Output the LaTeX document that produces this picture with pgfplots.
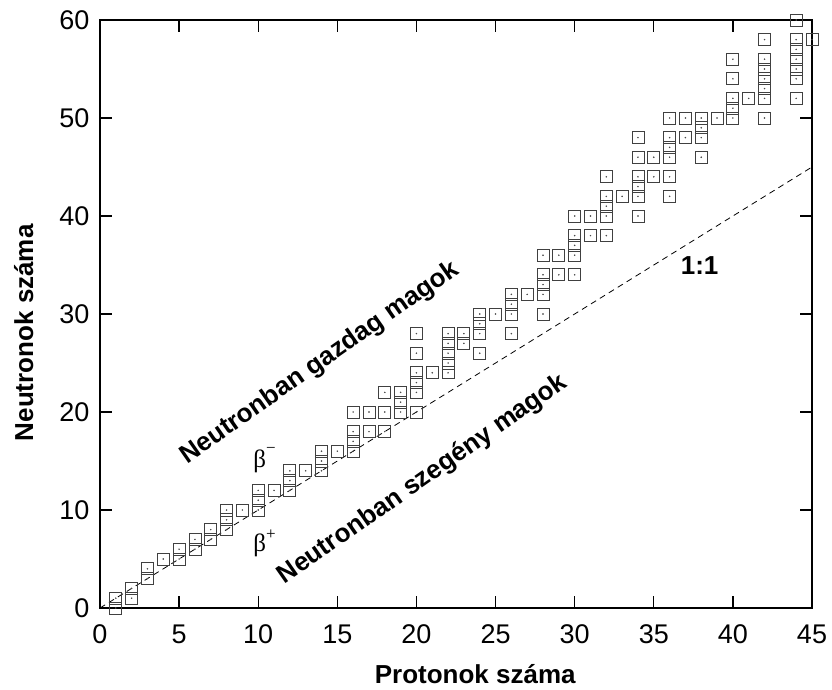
\documentclass[border=0pt]{standalone}
\usepackage{fontspec}
\setmainfont{Liberation Sans}
\newfontfamily\serifgreek{Liberation Serif}
\usepackage{pgfplots}
\usepackage{pgfplotstable}
\pgfplotsset{compat=1.18}

\pgfplotstableread{
z n
1 0
1 1
2 1
2 2
3 3
3 4
4 5
5 5
5 6
6 6
6 7
7 7
7 8
8 8
8 9
8 10
9 10
10 10
10 11
10 12
11 12
12 12
12 13
12 14
13 14
14 14
14 15
14 16
15 16
16 16
16 17
16 18
16 20
17 18
17 20
18 18
18 20
18 22
19 20
19 21
19 22
20 20
20 22
20 23
20 24
20 26
20 28
21 24
22 24
22 25
22 26
22 27
22 28
23 27
23 28
24 26
24 28
24 29
24 30
25 30
26 28
26 30
26 31
26 32
27 32
28 30
28 32
28 33
28 34
28 36
29 34
29 36
30 34
30 36
30 37
30 38
30 40
31 38
31 40
32 38
32 40
32 41
32 42
32 44
33 42
34 40
34 42
34 43
34 44
34 46
34 48
35 44
35 46
36 42
36 44
36 46
36 47
36 48
36 50
37 48
37 50
38 46
38 48
38 49
38 50
39 50
40 50
40 51
40 52
40 54
40 56
41 52
42 50
42 52
42 53
42 54
42 55
42 56
42 58
44 52
44 54
44 55
44 56
44 57
44 58
44 60
45 58
}\nuclides

\begin{document}
\begin{tikzpicture}
\begin{axis}[
  scale only axis,
  width=712pt, height=588pt,
  xmin=0, xmax=45, ymin=0, ymax=60,
  xtick={0,5,...,45}, ytick={0,10,...,60},
  tick align=inside,
  major tick length=12pt,
  axis line style={line width=1.3pt},
  every tick/.style={black, line width=1.3pt},
  tick label style={font=\fontsize{27}{32}\selectfont},
  x tick label style={yshift=-13pt},
  y tick label style={xshift=-7pt},
  /pgf/number format/assume math mode=true,
  xlabel={Protonok száma},
  ylabel={Neutronok száma},
  label style={font=\bfseries\fontsize{26}{31}\selectfont},
  x label style={at={(axis description cs:0.527,-0.112)}, anchor=center},
  y label style={at={(axis description cs:-0.107,0.468)}, anchor=center, rotate=0},
  clip=false,
]
\addplot[black, line width=0.8pt, dash pattern=on 6pt off 4.5pt] coordinates {(0,0) (45,45)};
\addplot[only marks, mark=square, mark size=6pt, mark options={line width=0.85pt, draw=black!75, fill=none}] table[x=z, y=n] {\nuclides};
\addplot[only marks, mark=*, mark size=0.55pt, mark options={black!70}] table[x=z, y=n] {\nuclides};

\node[rotate=35, font=\bfseries\fontsize{26}{31}\selectfont] at (axis cs:13.9,25.0) {Neutronban gazdag magok};
\node[rotate=35, font=\bfseries\fontsize{26}{31}\selectfont] at (axis cs:20.4,13.1) {Neutronban szegény magok};
\node[font=\bfseries\fontsize{26}{31}\selectfont] at (axis cs:37.9,34.9) {1:1};
\node[font=\serifgreek\fontsize{25}{29}\selectfont] at (axis cs:10.4,15.1) {β\raisebox{0.55em}{\fontsize{17}{20}\selectfont −}};
\node[font=\serifgreek\fontsize{25}{29}\selectfont] at (axis cs:10.4,6.6) {β\raisebox{0.45em}{\fontsize{17}{20}\selectfont +}};
\end{axis}
\pgfresetboundingbox
\path[use as bounding box] (current axis.south west) ++(-100pt,-81pt) rectangle ++(832pt,689pt);
\end{tikzpicture}
\end{document}
